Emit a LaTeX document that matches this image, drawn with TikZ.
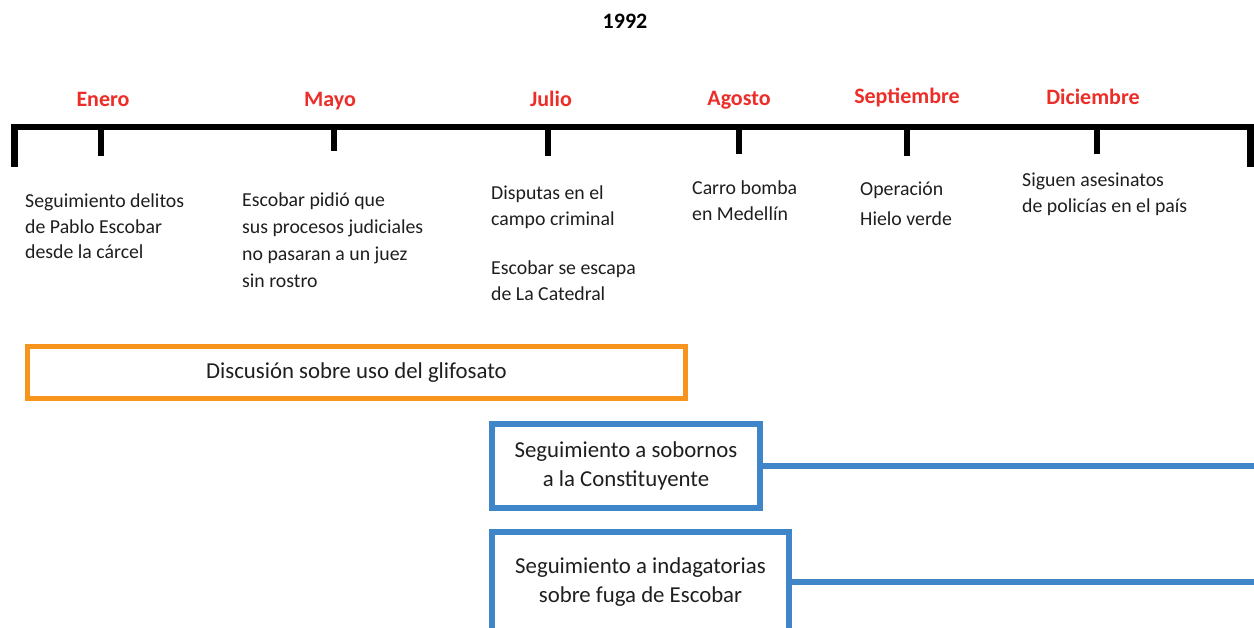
\documentclass[tikz,border=0pt]{standalone}
\usepackage{fontspec}
\setmainfont{Carlito}
\definecolor{monthred}{RGB}{236,45,40}
\definecolor{boxorange}{RGB}{247,148,30}
\definecolor{boxblue}{RGB}{62,134,200}
\definecolor{txt}{RGB}{30,30,30}
\begin{document}
\begin{tikzpicture}[x=1pt,y=-1pt,
  month/.style={text=monthred,font=\fontsize{22}{26}\selectfont\bfseries,inner sep=0pt,anchor=center},
  event/.style={align=left,inner sep=0pt,anchor=north west,text=txt,font=\fontsize{19.8}{25.5}\selectfont},
  tl/.style={line width=6.5pt},
  tick/.style={line width=6pt},
  obox/.style={draw=boxorange,line width=5pt,minimum width=658pt,minimum height=52pt,inner sep=0pt,text=txt,font=\fontsize{22.8}{28}\selectfont},
  bbox/.style={draw=boxblue,line width=6pt,inner sep=0pt,align=center,text=txt,font=\fontsize{22.8}{29}\selectfont},
  bline/.style={draw=boxblue,line width=6.5pt}]
\useasboundingbox (0,0) rectangle (1254,628);
\clip (0,0) rectangle (1254,628);
% title
\node[inner sep=0pt,font=\fontsize{22}{26}\selectfont\bfseries] (year) at (625,21) {1992};
% timeline
\draw[tl,line join=miter] (14.5,167) -- (14.5,127) -- (1250.5,127) -- (1250.5,167);
\foreach \x/\b in {101/156,334/151,548/156,739/154,907/156,1097/154}
  \draw[tick] (\x,127) -- (\x,\b);
% months
\node[month] (m1) at (103,99) {Enero};
\node[month] (m2) at (330,101) {Mayo};
\node[month] (m3) at (551,99) {Julio};
\node[month] (m4) at (739,100) {Agosto};
\node[month] (m5) at (907,97) {Septiembre};
\node[month] (m6) at (1093,97) {Diciembre};
% events
\node[event] (e1) at (25,194) {Seguimiento delitos\\de Pablo Escobar\\desde la cárcel};
\node[event,font=\fontsize{19.8}{26.7}\selectfont] (e2) at (242,193) {Escobar pidió que\\sus procesos judiciales\\no pasaran a un juez\\sin rostro};
\node[event,font=\fontsize{19.8}{26}\selectfont] (e3) at (491,186) {Disputas en el\\campo criminal};
\node[event,font=\fontsize{19.8}{26}\selectfont] (e4) at (491,261) {Escobar se escapa\\de La Catedral};
\node[event,font=\fontsize{19.8}{26}\selectfont] (e5) at (692,181) {Carro bomba\\en Medellín};
\node[event,font=\fontsize{19.8}{30}\selectfont] (e6) at (860,182) {Operación\\Hielo verde};
\node[event,font=\fontsize{19.8}{26}\selectfont] (e7) at (1022,173) {Siguen asesinatos\\de policías en el país};
% boxes
\node[obox] (glif) at (356.5,372.5) {Discusión sobre uso del glifosato};
\node[bbox,minimum width=268pt,minimum height=84pt] (sob) at (626,466) {Seguimiento a sobornos\\a la Constituyente};
\node[bbox,minimum width=297pt,minimum height=100pt] (ind) at (640.5,582) {Seguimiento a indagatorias\\sobre fuga de Escobar};
\coordinate (sobend) at (1256,466);
\coordinate (indend) at (1256,582);
\draw[bline] (sob.east) -- (sobend);
\draw[bline] (ind.east) -- (indend);
\end{tikzpicture}
\end{document}
